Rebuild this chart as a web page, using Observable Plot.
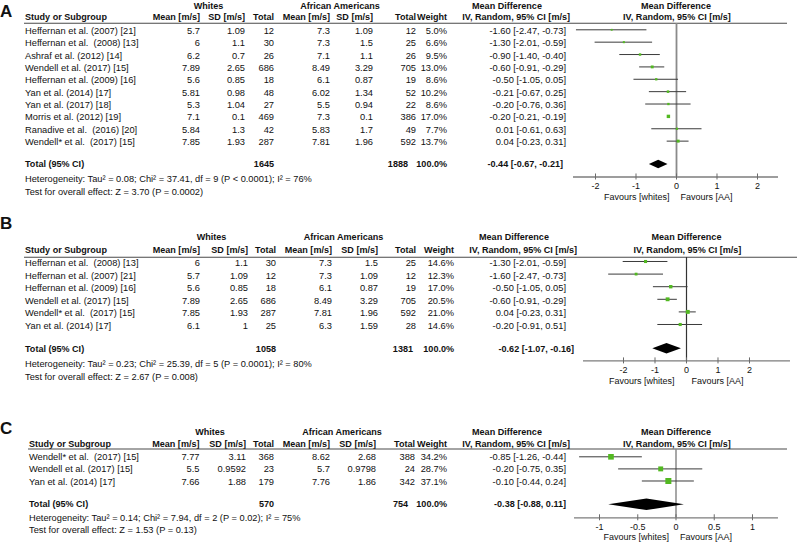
<!DOCTYPE html>
<html><head><meta charset="utf-8">
<script src="https://cdn.jsdelivr.net/npm/d3@7"></script>
<script src="https://cdn.jsdelivr.net/npm/@observablehq/plot@0.6"></script>
<style>
html,body{margin:0;padding:0;background:#fff;}
#chart{position:relative;width:800px;height:542px;overflow:hidden;}
#chart svg{position:absolute;}
</style></head><body><div id="chart"></div>
<script>
// ---------------- DATA ----------------
// Panel A
const studiesA = ["Heffernan et al. (2007) [21]","Heffernan et al.  (2008) [13]","Ashraf et al. (2012) [14]","Wendell et al. (2017) [15]","Heffernan et al. (2009) [16]","Yan et al. (2014) [17]","Yan et al. (2017) [18]","Morris et al. (2012) [19]","Ranadive et al.  (2016) [20]","Wendell* et al.  (2017) [15]"];
const whiteMeanA = [5.7, 6, 6.2, 7.89, 5.6, 5.81, 5.3, 7.1, 5.84, 7.85];
const whiteSDA   = [1.09, 1.1, 0.7, 2.65, 0.85, 0.98, 1.04, 0.1, 1.3, 1.93];
const whiteNA    = [12, 30, 26, 686, 18, 48, 27, 469, 42, 287];
const aaMeanA    = [7.3, 7.3, 7.1, 8.49, 6.1, 6.02, 5.5, 7.3, 5.83, 7.81];
const aaSDA      = [1.09, 1.5, 1.1, 3.29, 0.87, 1.34, 0.94, 0.1, 1.7, 1.96];
const aaNA       = [12, 25, 26, 705, 19, 52, 22, 386, 49, 592];
const weightA    = [5.0, 6.6, 9.5, 13.0, 8.6, 10.2, 8.6, 17.0, 7.7, 13.7];
const mdA        = [-1.60, -1.30, -0.90, -0.60, -0.50, -0.21, -0.20, -0.20, 0.01, 0.04];
const loA        = [-2.47, -2.01, -1.40, -0.91, -1.05, -0.67, -0.76, -0.21, -0.61, -0.23];
const hiA        = [-0.73, -0.59, -0.40, -0.29, 0.05, 0.25, 0.36, -0.19, 0.63, 0.31];
const totalA     = [1645, 1888, -0.44, -0.67, -0.21]; // whites N, AA N, MD, lo, hi
const hetA  = "Heterogeneity: Tau² = 0.08; Chi² = 37.41, df = 9 (P < 0.0001); I² = 76%";
const testA = "Test for overall effect: Z = 3.70 (P = 0.0002)";
const ticksA = [-2, -1, 0, 1, 2];

// Panel B
const studiesB = ["Heffernan et al.  (2008) [13]","Heffernan et al. (2007) [21]","Heffernan et al. (2009) [16]","Wendell et al. (2017) [15]","Wendell* et al.  (2017) [15]","Yan et al. (2014) [17]"];
const whiteMeanB = [6, 5.7, 5.6, 7.89, 7.85, 6.1];
const whiteSDB   = [1.1, 1.09, 0.85, 2.65, 1.93, 1];
const whiteNB    = [30, 12, 18, 686, 287, 25];
const aaMeanB    = [7.3, 7.3, 6.1, 8.49, 7.81, 6.3];
const aaSDB      = [1.5, 1.09, 0.87, 3.29, 1.96, 1.59];
const aaNB       = [25, 12, 19, 705, 592, 28];
const weightB    = [14.6, 12.3, 17.0, 20.5, 21.0, 14.6];
const mdB        = [-1.30, -1.60, -0.50, -0.60, 0.04, -0.20];
const loB        = [-2.01, -2.47, -1.05, -0.91, -0.23, -0.91];
const hiB        = [-0.59, -0.73, 0.05, -0.29, 0.31, 0.51];
const totalB     = [1058, 1381, -0.62, -1.07, -0.16];
const hetB  = "Heterogeneity: Tau² = 0.23; Chi² = 25.39, df = 5 (P = 0.0001); I² = 80%";
const testB = "Test for overall effect: Z = 2.67 (P = 0.008)";
const ticksB = [-2, -1, 0, 1, 2];

// Panel C
const studiesC = ["Wendell* et al.  (2017) [15]","Wendell et al. (2017) [15]","Yan et al. (2014) [17]"];
const whiteMeanC = [7.77, 5.5, 7.66];
const whiteSDC   = [3.11, 0.9592, 1.88];
const whiteNC    = [368, 23, 179];
const aaMeanC    = [8.62, 5.7, 7.76];
const aaSDC      = [2.68, 0.9798, 1.86];
const aaNC       = [388, 24, 342];
const weightC    = [34.2, 28.7, 37.1];
const mdC        = [-0.85, -0.20, -0.10];
const loC        = [-1.26, -0.75, -0.44];
const hiC        = [-0.44, 0.35, 0.24];
const totalC     = [570, 754, -0.38, -0.88, 0.11];
const hetC  = "Heterogeneity: Tau² = 0.14; Chi² = 7.94, df = 2 (P = 0.02); I² = 75%";
const testC = "Test for overall effect: Z = 1.53 (P = 0.13)";
const ticksC = [-1, -0.5, 0, 0.5, 1];

const groupLabels = ["Whites", "African Americans"];
const colHeaders = ["Study or Subgroup", "Mean [m/s]", "SD [m/s]", "Total", "Mean [m/s]", "SD [m/s]", "Total", "Weight"];
const mdHeader = ["Mean Difference", "IV, Random, 95% CI [m/s]"];
const favours = ["Favours [whites]", "Favours [AA]"];

// ---------------- LAYOUT ----------------
const FONT = '"Liberation Sans", Arial, Helvetica, sans-serif';
const INK = "#111";
const GREEN = "#52b821";
const REG = 9.3, BOLD = 9.05, SMALL = 9.25;

const layouts = [
  {label:"A", labelY:11, h1:5.5, h2:16.5, line:23.3, row0:29.6, dy:12.37, tdy:1.3, totalY:164.3, hetY:179, testY:191.6,
   axisY:176.8, tickLabY:185.5, favY:196.6, x0:573, x1:778, tMin:595, tMax:757, studyX:25,
   cols:[200,245,274,330,373,416,447], totAN:408, ci:566, totCi:563, whitesC:208.5, aaC:340, mdC:507, ivR:570, plotC:676, lineEnd:787,
   zeroStroke:"#8a8a8a", zeroW:1.8, dh:4.2, favL:-7, favR:4},
  {label:"B", labelY:223.5, h1:237, h2:250, line:257.3, row0:261.3, dy:12.6, tdy:1.6, totalY:348.5, hetY:364, testY:376.7,
   axisY:360.7, tickLabY:370, favY:380.7, x0:583, x1:790, tMin:623, tMax:749, studyX:25,
   cols:[200,248,276,332,378,416,454], totAN:413, ci:566, totCi:574, whitesC:211.5, aaC:343.5, mdC:514, ivR:577, plotC:686.5, lineEnd:797,
   zeroStroke:"#333", zeroW:1.2, dh:5.3, favL:-12, favR:5},
  {label:"C", labelY:428, h1:432, h2:444, line:449, row0:456.3, dy:12.1, tdy:1.0, totalY:504.3, hetY:517.7, testY:530,
   axisY:517.3, tickLabY:526.5, favY:536.7, x0:574, x1:778, tMin:599, tMax:752, studyX:29,
   cols:[199.5,246,274,330,376,415,447], totAN:408, ci:566, totCi:566, whitesC:210, aaC:342, mdC:507, ivR:570, plotC:676, lineEnd:787,
   zeroStroke:"#8a8a8a", zeroW:1.5, dh:5.8, favL:-7, favR:4}
];

const panels = [
  {studies:studiesA, wM:whiteMeanA, wS:whiteSDA, wN:whiteNA, aM:aaMeanA, aS:aaSDA, aN:aaNA, weight:weightA, md:mdA, lo:loA, hi:hiA, total:totalA, het:hetA, test:testA, ticks:ticksA},
  {studies:studiesB, wM:whiteMeanB, wS:whiteSDB, wN:whiteNB, aM:aaMeanB, aS:aaSDB, aN:aaNB, weight:weightB, md:mdB, lo:loB, hi:hiB, total:totalB, het:hetB, test:testB, ticks:ticksB},
  {studies:studiesC, wM:whiteMeanC, wS:whiteSDC, wN:whiteNC, aM:aaMeanC, aS:aaSDC, aN:aaNC, weight:weightC, md:mdC, lo:loC, hi:hiC, total:totalC, het:hetC, test:testC, ticks:ticksC}
];

// ---------------- TEXT LAYER ----------------
const chart = d3.select("#chart");
const tl = chart.append("svg").attr("width", 800).attr("height", 542).style("left","0px").style("top","0px");
function txt(x, y, s, anchor="start", bold=false, size=REG) {
  tl.append("text").attr("x", x).attr("y", y)
    .attr("text-anchor", anchor).attr("dominant-baseline", "central")
    .attr("font-family", FONT).attr("font-size", size)
    .attr("font-weight", bold ? "bold" : "normal").attr("fill", INK)
    .style("white-space", "pre").text(s);
}
const ciText = (m, l, h) => `${m.toFixed(2)} [${l.toFixed(2)}, ${h.toFixed(2)}]`;

panels.forEach((d, p) => {
  const L = layouts[p];
  txt(0, L.labelY, L.label, "start", true, 17);
  // group headers
  txt(L.whitesC, L.h1, groupLabels[0], "middle", true, BOLD);
  txt(L.aaC, L.h1, groupLabels[1], "middle", true, BOLD);
  txt(L.mdC, L.h1, mdHeader[0], "middle", true, BOLD);
  txt(L.plotC, L.h1, mdHeader[0], "middle", true, BOLD);
  // column headers
  txt(L.studyX, L.h2, colHeaders[0], "start", true, BOLD);
  for (let c = 1; c < colHeaders.length; c++) txt(L.cols[c-1], L.h2, colHeaders[c], "end", true, BOLD);
  txt(L.ivR, L.h2, mdHeader[1], "end", true, BOLD);
  txt(L.plotC + 1, L.h2, mdHeader[1], "middle", true, BOLD);
  tl.append("line").attr("x1", L.studyX - 1).attr("x2", L.lineEnd).attr("y1", L.line).attr("y2", L.line)
    .attr("stroke", "#4a4a4a").attr("stroke-width", 1.1);
  // rows
  d.studies.forEach((s, i) => {
    const y = L.row0 + i * L.dy + L.tdy;
    txt(L.studyX, y, s);
    const vals = [d.wM[i], d.wS[i], d.wN[i], d.aM[i], d.aS[i], d.aN[i]];
    vals.forEach((v, c) => txt(L.cols[c], y, String(v), "end"));
    txt(L.cols[6], y, d.weight[i].toFixed(1) + "%", "end");
    txt(L.ci, y, ciText(d.md[i], d.lo[i], d.hi[i]), "end");
  });
  // total
  txt(L.studyX, L.totalY, "Total (95% CI)", "start", true, BOLD);
  txt(L.cols[2], L.totalY, String(d.total[0]), "end", true, BOLD);
  txt(L.totAN, L.totalY, String(d.total[1]), "end", true, BOLD);
  txt(L.cols[6], L.totalY, "100.0%", "end", true, BOLD);
  txt(L.totCi, L.totalY, ciText(d.total[2], d.total[3], d.total[4]), "end", true, BOLD);
  txt(L.studyX, L.hetY, d.het, "start", false, SMALL);
  txt(L.studyX, L.testY, d.test, "start", false, SMALL);
});

// ---------------- FOREST PLOTS (Observable Plot) ----------------
panels.forEach((d, p) => {
  const L = layouts[p];
  const top = L.line, bottom = L.favY + 8, H = bottom - top, W = L.x1 - L.x0;
  const rows = d.studies.map((s, i) => ({y: L.row0 + i * L.dy, md: d.md[i], lo: d.lo[i], hi: d.hi[i], w: d.weight[i]}));
  const dia = [
    {x: d.total[3], y1: L.totalY, y2: L.totalY},
    {x: d.total[2], y1: L.totalY - L.dh, y2: L.totalY + L.dh},
    {x: d.total[4], y1: L.totalY, y2: L.totalY}
  ];
  const side = w => 1.2 + 0.13 * w;
  const svg = Plot.plot({
    width: W, height: H, margin: 0,
    x: {type: "linear", domain: [d.ticks[0], d.ticks[d.ticks.length - 1]], range: [L.tMin - L.x0, L.tMax - L.x0], axis: null},
    y: {type: "linear", domain: [top, bottom], range: [0, H], axis: null},
    r: {type: "identity"},
    style: {overflow: "visible", background: "transparent", fontFamily: FONT, color: INK},
    marks: [
      Plot.ruleY([L.axisY], {stroke: "#7d7d7d", strokeWidth: 1.3}),
      Plot.ruleX([0], {y1: top, y2: L.axisY, stroke: L.zeroStroke, strokeWidth: L.zeroW}),
      Plot.ruleX(d.ticks, {x: t => t, y1: L.axisY - 3, y2: L.axisY + 3, stroke: "#6a6a6a", strokeWidth: 1}),
      Plot.text(d.ticks, {x: t => t, y: L.tickLabY, text: t => String(t), fontSize: 9, fill: INK}),
      Plot.text([favours[0]], {x: 0, y: L.favY, text: s => s, textAnchor: "end", dx: L.favL, fontSize: 9, fill: INK}),
      Plot.text([favours[1]], {x: 0, y: L.favY, text: s => s, textAnchor: "start", dx: L.favR, fontSize: 9, fill: INK}),
      Plot.ruleY(rows, {y: "y", x1: "lo", x2: "hi", stroke: "#3a3a3a", strokeWidth: 1}),
      Plot.dot(rows, {x: "md", y: "y", symbol: "square", r: r => side(r.w) / Math.sqrt(Math.PI), fill: GREEN, stroke: "none"}),
      Plot.areaY(dia, {x: "x", y1: "y1", y2: "y2", fill: "#000", curve: "linear"})
    ]
  });
  svg.style.position = "absolute";
  svg.style.left = L.x0 + "px";
  svg.style.top = top + "px";
  document.getElementById("chart").appendChild(svg);
});
</script></body></html>
